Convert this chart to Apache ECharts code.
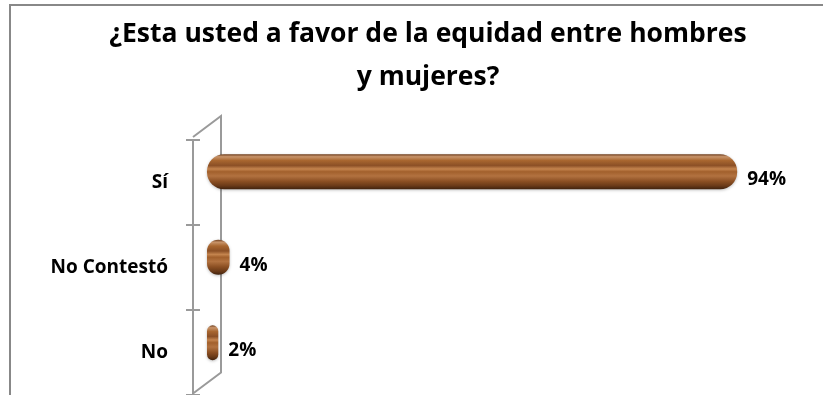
<!DOCTYPE html>
<html>
<head>
<meta charset="utf-8">
<script src="https://cdn.jsdelivr.net/npm/echarts@6/dist/echarts.min.js"></script>
<style>
  html, body { margin: 0; padding: 0; background: #fff; }
  #chart { width: 823px; height: 395px; }
</style>
</head>
<body>
<div id="chart"></div>
<script>
const categories = ['Sí', 'No Contestó', 'No'];
const percentages = [94, 4, 2];

const titleText = '¿Esta usted a favor de la equidad entre hombres\ny mujeres?';
const font = '"Open Sans", Lato, sans-serif';
const wallColor = '#9a9a9a';

// front plane of the 3D wall / back plane where the bars sit
const frontLeft = 193;
const gridTop = 140;
const gridHeight = 256.5;
const depthX = 28;
const depthY = 21;

const myChart = echarts.init(document.getElementById('chart'));

const woodGradient = new echarts.graphic.LinearGradient(0, 0, 0, 1, [
  { offset: 0, color: '#6e3d1c' },
  { offset: 0.07, color: '#c8946a' },
  { offset: 0.18, color: '#a8662f' },
  { offset: 0.32, color: '#8c5026' },
  { offset: 0.42, color: '#c4844e' },
  { offset: 0.5, color: '#a2602c' },
  { offset: 0.62, color: '#b27240' },
  { offset: 0.78, color: '#8a4e22' },
  { offset: 0.9, color: '#6a3a18' },
  { offset: 1, color: '#40220e' },
]);

myChart.setOption({
  animation: false,
  title: {
    text: titleText,
    left: 423,
    textAlign: 'center',
    top: 8,
    textStyle: {
      fontFamily: font,
      fontSize: 26.5,
      fontWeight: 'bold',
      color: '#000',
      lineHeight: 43,
    },
  },
  grid: [
    { left: frontLeft, top: gridTop, width: 560, height: gridHeight },
    { left: 207, top: gridTop - 11, right: 52, height: gridHeight },
  ],
  xAxis: [
    { type: 'value', gridIndex: 0, show: false, min: 0, max: 100 },
    { type: 'value', gridIndex: 1, show: false, min: 0, max: 100 },
  ],
  yAxis: [
    {
      type: 'category',
      gridIndex: 0,
      position: 'left',
      data: categories,
      inverse: true,
      axisLine: { show: true, lineStyle: { color: wallColor, width: 2 } },
      axisTick: { show: true, length: 7, lineStyle: { color: wallColor, width: 2 } },
      axisLabel: {
        margin: 25,
        fontFamily: font,
        fontSize: 19,
        fontWeight: 'bold',
        color: '#000',
      },
      splitLine: { show: false },
    },
    {
      type: 'category',
      gridIndex: 1,
      data: categories,
      inverse: true,
      show: false,
    },
    {
      // inner half of the cross ticks on the front edge
      type: 'category',
      gridIndex: 0,
      position: 'left',
      data: categories,
      inverse: true,
      axisLine: { show: false },
      axisTick: { show: true, inside: true, length: 7, lineStyle: { color: wallColor, width: 2 } },
      axisLabel: { show: false },
      splitLine: { show: false },
    },
  ],
  graphic: [
    {
      type: 'rect',
      shape: { x: 10, y: 5, width: 900, height: 500 },
      style: { fill: 'none', stroke: '#888', lineWidth: 2 },
      silent: true,
    },
    {
      type: 'polyline',
      shape: {
        points: [
          [frontLeft, gridTop - 3],
          [frontLeft + depthX, gridTop - 3 - depthY],
          [frontLeft + depthX, gridTop - 3 - depthY + gridHeight],
          [frontLeft, gridTop - 3 + gridHeight],
        ],
      },
      style: { fill: 'none', stroke: wallColor, lineWidth: 2 },
      silent: true,
    },
  ],
  series: [
    {
      name: 'equidad',
      type: 'bar',
      xAxisIndex: 1,
      yAxisIndex: 1,
      barWidth: 35,
      data: percentages,
      itemStyle: {
        color: woodGradient,
        borderRadius: 17,
        shadowColor: 'rgba(0,0,0,0.25)',
        shadowBlur: 3,
        shadowOffsetY: 1,
      },
      label: {
        show: true,
        position: 'right',
        distance: 10,
        offset: [0, 8],
        formatter: '{c}%',
        fontFamily: font,
        fontSize: 19,
        fontWeight: 'bold',
        color: '#000',
      },
    },
  ],
});
</script>
</body>
</html>
